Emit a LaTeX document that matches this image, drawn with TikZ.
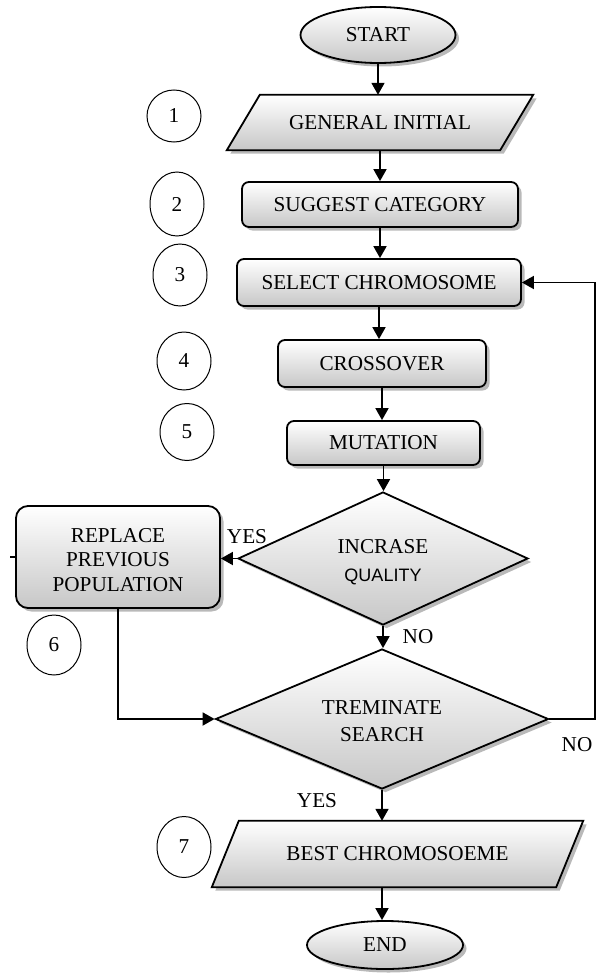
\documentclass[tikz,border=0pt]{standalone}
\usepackage{fontspec}
\setmainfont{Liberation Serif}
\newfontfamily\qsans{Liberation Sans}
\usetikzlibrary{shapes.geometric,arrows.meta,shadows,backgrounds}
\begin{document}
\begin{tikzpicture}[x=1pt,y=-1pt,
  every node/.style={font=\fontsize{21.2}{25}\selectfont},
  shd/.style={drop shadow={shadow xshift=3.5pt,shadow yshift=-3.5pt,fill=black!50,opacity=0.55}},
  grad/.style={top color=white,bottom color=black!22},
  shp/.style={draw,line width=1.8pt,grad,shd},
  termin/.style={ellipse,shp,inner sep=0pt},
  iotext/.style={rectangle,inner sep=0pt},
  proc/.style={rectangle,rounded corners=7pt,shp,inner sep=0pt,align=center},
  dec/.style={diamond,shp,inner sep=0pt,align=center},
  dectext/.style={inner sep=0pt,align=center},
  num/.style={ellipse,draw,line width=1pt,inner sep=0pt,minimum width=54pt},
  arr/.style={line width=1.8pt,-{Triangle[length=12pt,width=13pt]}},
  lbl/.style={inner sep=0pt}
]
\useasboundingbox (0,0) rectangle (598,979);

% terminals
\node[termin,minimum width=155pt,minimum height=56pt] (start) at (378,35) {START};
\node[termin,minimum width=156pt,minimum height=48pt] (end) at (385,945) {END};

% input/output parallelograms (text nodes, shape drawn on background)
\node[iotext,minimum width=306pt,minimum height=55pt] (gen) at (380,122.5) {GENERAL INITIAL};
\node[iotext,minimum width=371pt,minimum height=66pt] (best) at (397.5,854) {BEST CHROMOSOEME};
\begin{scope}[on background layer]
\path[shp] ([xshift=33pt]gen.north west) -- (gen.north east) -- ([xshift=-33pt]gen.south east) -- (gen.south west) -- cycle;
\path[shp] ([xshift=27pt]best.north west) -- (best.north east) -- ([xshift=-27pt]best.south east) -- (best.south west) -- cycle;
\end{scope}

% processes
\node[proc,minimum width=276pt,minimum height=45pt] (sug) at (380,204.5) {SUGGEST CATEGORY};
\node[proc,minimum width=284pt,minimum height=47pt] (sel) at (379,282.5) {SELECT CHROMOSOME};
\node[proc,minimum width=208pt,minimum height=47pt] (cross) at (382,363.5) {CROSSOVER};
\node[proc,minimum width=193pt,minimum height=44pt] (mut) at (383.5,443) {MUTATION};
\node[proc,rounded corners=12pt,minimum width=204pt,minimum height=102pt] (rep) at (118,557) {};
\node[dectext,font=\fontsize{21.2}{24.5}\selectfont] (reptext) at (118,560) {REPLACE\\PREVIOUS\\POPULATION};

% decisions
\node[dec,minimum width=290pt,minimum height=133pt] (inc) at (383,558.5) {};
\node[dectext,font=\fontsize{21.2}{28}\selectfont] (inctext) at (383,562) {INCRASE\\{\qsans\fontsize{18}{28}\selectfont QUALITY}};
\node[dec,minimum width=333pt,minimum height=140pt] (term) at (382,719) {};
\node[dectext,font=\fontsize{21.2}{27}\selectfont] (termtext) at (382,721) {TREMINATE\\SEARCH};

% numbered circles
\node[num,minimum height=52pt] (c1) at (174,116) {1};
\node[num,minimum height=64pt] (c2) at (177,204) {2};
\node[num,minimum height=62pt] (c3) at (180,275) {3};
\node[num,minimum height=58pt] (c4) at (184,361) {4};
\node[num,minimum height=57pt] (c5) at (187,432) {5};
\node[num,minimum height=60pt] (c6) at (54,645) {6};
\node[num,minimum height=61pt] (c7) at (184,847) {7};

% labels
\node[lbl] (yes1) at (247,537) {YES};
\node[lbl] (no1) at (418,637) {NO};
\node[lbl] (no2) at (577,745) {NO};
\node[lbl] (yes2) at (317,801) {YES};

\coordinate (loopx) at (595,500);

% connectors
\draw[arr] (start.south) -- (start.south |- gen.north);
\draw[arr] (gen.south) -- (gen.south |- sug.north);
\draw[arr] (sug.south) -- (sug.south |- sel.north);
\draw[arr] (sel.south) -- (sel.south |- cross.north);
\draw[arr] (cross.south) -- (cross.south |- mut.north);
\draw[arr] (mut.south) -- (mut.south |- inc.north);
\draw[arr] (inc.west) -- (inc.west -| rep.east);
\draw[arr] (inc.south) -- (inc.south |- term.north);
\draw[arr] (rep.south) |- (term.west);
\draw[arr] (term.east) -| (loopx) |- (sel.east);
\draw[arr] (term.south) -- (term.south |- best.north);
\draw[arr] (best.south -| term.south) -- (term.south |- end.north);
\draw[line width=1.8pt] (rep.west) -- ++(-5,0);
\end{tikzpicture}
\end{document}
